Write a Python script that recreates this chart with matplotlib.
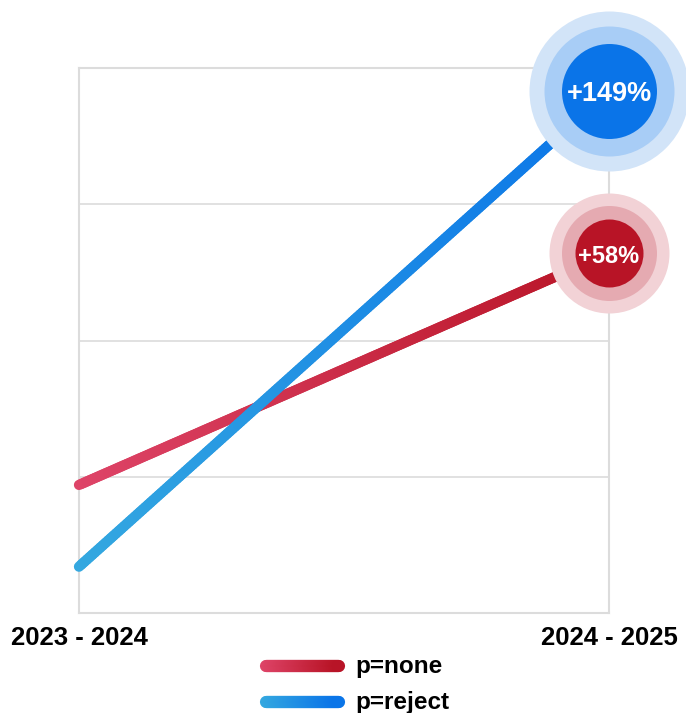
import numpy as np
import matplotlib.pyplot as plt
from matplotlib.collections import LineCollection
from matplotlib.colors import to_rgb

# data
periods = ['2023 - 2024', '2024 - 2025']
series = ['p=none', 'p=reject']
none_vals = [2.94, 4.64]
reject_vals = [2.34, 5.83]
changes = ['+58%', '+149%']

plt.rcParams['font.family'] = ['Liberation Sans', 'DejaVu Sans']

fig = plt.figure(figsize=(6.86, 7.13), dpi=100)
W, H = 686, 713
ax = fig.add_axes([79 / W, (H - 613) / H, (609 - 79) / W, (613 - 68) / H])

grid_c = '#dcdcdc'
ax.set_xlim(0, 1)
ax.set_ylim(2, 6)
for yv in [3, 4, 5]:
    ax.axhline(yv, color=grid_c, lw=1.2, zorder=0)
for s in ax.spines.values():
    s.set_color(grid_c)
    s.set_linewidth(1.5)
ax.set_xticks([])
ax.set_yticks([])

def grad_line(ax, xs, ys, c0, c1, lw, z):
    # split the line into short pieces so the colour can fade along it
    n = 200
    t = np.linspace(0, 1, n + 1)
    px = xs[0] + (xs[1] - xs[0]) * t
    py = ys[0] + (ys[1] - ys[0]) * t
    segs = np.stack([np.column_stack([px[:-1], py[:-1]]),
                     np.column_stack([px[1:], py[1:]])], axis=1)
    a, b = np.array(to_rgb(c0)), np.array(to_rgb(c1))
    cols = [a + (b - a) * tt for tt in t[:-1]]
    lc = LineCollection(segs, colors=cols, linewidths=lw, capstyle='round',
                        zorder=z, clip_on=False, transform=ax.transData)
    ax.add_collection(lc)

xpos = [0, 1]
lw = 7.4
grad_line(ax, xpos, none_vals, '#de4468', '#b81426', lw, 3)
grad_line(ax, xpos, reject_vals, '#34a8e0', '#0a74e8', lw, 4)

def px2pt(r):
    return 2 * r * 72 / 100

# end bubbles
bubbles = [
    (none_vals[1], changes[0], [60, 47.5, 34], ['#f2d2d6', '#e5aab1', '#b81426'], 17),
    (reject_vals[1], changes[1], [80, 65, 47.5], ['#d2e4f8', '#a8cdf6', '#0a74e8'], 19.5),
]
for yv, lab, radii, cols, fs in bubbles:
    for i, (r, c) in enumerate(zip(radii, cols)):
        ax.plot([1], [yv], marker='o', ms=px2pt(r), mfc=c, mec='none',
                clip_on=False, zorder=5 + i)
    ax.text(1, yv - 0.02, lab, ha='center', va='center', color='white',
            fontsize=fs, fontweight='bold', zorder=10)

# x labels
for xv, lab in zip(xpos, periods):
    fig.text((79 + 530 * xv) / W, 1 - 638 / H, lab, ha='center', va='center',
             fontsize=18.5, fontweight='bold', color='black')

# legend
legend_cols = [('#de4468', '#b81426'), ('#34a8e0', '#0a74e8')]
lax = fig.add_axes([0, 0, 1, 1], zorder=-1)
lax.set_xlim(0, W)
lax.set_ylim(H, 0)
lax.axis('off')
for i, (name, (c0, c1)) in enumerate(zip(series, legend_cols)):
    y = 666 + 36 * i
    grad_line(lax, [266, 339], [y, y], c0, c1, 8.8, 3)
    lax.text(355, y + 1, name, ha='left', va='center', fontsize=17.5,
             fontweight='bold', color='black')

fig.savefig('out.png', dpi=100)
